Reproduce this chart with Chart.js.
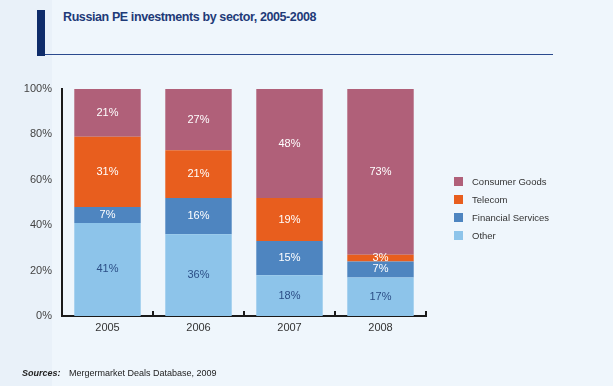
<!DOCTYPE html>
<html>
<head>
<meta charset="utf-8">
<script src="https://cdn.jsdelivr.net/npm/chart.js@4/dist/chart.umd.min.js"></script>
<style>
    html, body { margin: 0; padding: 0; }
    body {
        width: 613px; height: 386px; position: relative; overflow: hidden;
        background: #EFF6FC; font-family: "Liberation Sans", Arial, sans-serif;
    }
    #leftStrip { position: absolute; left: 0; top: 0; width: 52px; height: 386px; background: #E9F1F9; }
    #titleBar { position: absolute; left: 37px; top: 10px; width: 8px; height: 46px; background: #0E2C6A; }
    #titleRule { position: absolute; left: 45px; top: 54px; width: 508px; height: 1px; background: #2B4A8E; }
    #title {
        position: absolute; left: 63px; top: 10px; font-size: 12.5px; font-weight: bold;
        color: #1E3A78; letter-spacing: -0.4px; white-space: nowrap;
    }
    #chartBox { position: absolute; left: 0; top: 0; width: 613px; height: 386px; }
    #legend { position: absolute; left: 454px; top: 172px; }
    .legend-item { height: 18px; display: flex; align-items: center; font-size: 9.5px; color: #333; white-space: nowrap; }
    .legend-item span.box { width: 9px; height: 9px; margin-right: 9px; display: inline-block; }
    #sources { position: absolute; left: 22px; top: 368px; font-size: 9px; color: #222; white-space: nowrap; }
    #sources b { font-style: italic; display: inline-block; width: 47px; }
</style>
</head>
<body>
<div id="leftStrip"></div>
<div id="titleBar"></div>
<div id="titleRule"></div>
<div id="title">Russian PE investments by sector, 2005-2008</div>
<div id="chartBox"><canvas id="sectorChart" width="613" height="386"></canvas></div>
<div id="legend"></div>
<div id="sources"><b>Sources:</b>Mergermarket Deals Database, 2009</div>

<script>
// Chart data
const years = ['2005', '2006', '2007', '2008'];
const otherValues = [41, 36, 18, 17];
const financialValues = [7, 16, 15, 7];
const telecomValues = [31, 21, 19, 3];
const consumerValues = [21, 27, 48, 73];
const yTicks = [0, 20, 40, 60, 80, 100];

const seriesNames = ['Other', 'Financial Services', 'Telecom', 'Consumer Goods'];
const seriesColors = ['#8DC4EA', '#4E85C0', '#E85E1E', '#B06079'];
const labelColors = ['#2B4E86', '#FFFFFF', '#FFFFFF', '#FFFFFF'];

const datasets = [otherValues, financialValues, telecomValues, consumerValues].map((values, i) => ({
    label: seriesNames[i],
    data: values,
    backgroundColor: seriesColors[i],
    borderWidth: 0,
    categoryPercentage: 1,
    barPercentage: 0.73
}));

// Percent labels in the middle of every segment
const segmentLabels = {
    id: 'segmentLabels',
    afterDatasetsDraw(chart) {
        const ctx = chart.ctx;
        ctx.save();
        ctx.font = '11px "Liberation Sans", Arial, sans-serif';
        ctx.textAlign = 'center';
        ctx.textBaseline = 'middle';
        chart.data.datasets.forEach((ds, i) => {
            ctx.fillStyle = labelColors[i];
            chart.getDatasetMeta(i).data.forEach((bar, j) => {
                ctx.fillText(ds.data[j] + '%', bar.x, (bar.y + bar.base) / 2);
            });
        });
        ctx.restore();
    }
};

// Small upward tick marks between the categories on the x axis
const categoryTicks = {
    id: 'categoryTicks',
    afterDraw(chart) {
        const ctx = chart.ctx;
        const xScale = chart.scales.x;
        const bottom = chart.chartArea.bottom;
        const half = (xScale.getPixelForValue(1) - xScale.getPixelForValue(0)) / 2;
        ctx.save();
        ctx.strokeStyle = '#1A1A1A';
        ctx.lineWidth = 2;
        years.forEach((y, i) => {
            const x = Math.round(xScale.getPixelForValue(i) + half);
            ctx.beginPath();
            ctx.moveTo(x, bottom);
            ctx.lineTo(x, bottom - 5);
            ctx.stroke();
        });
        ctx.restore();
    }
};

new Chart(document.getElementById('sectorChart').getContext('2d'), {
    type: 'bar',
    data: { labels: years, datasets: datasets },
    options: {
        responsive: false,
        animation: false,
        layout: { padding: { left: 0, top: 89, right: 187, bottom: 48 } },
        plugins: { legend: { display: false }, tooltip: { enabled: false } },
        scales: {
            x: {
                stacked: true,
                grid: { display: false, drawTicks: false },
                border: { color: '#1A1A1A', width: 2 },
                ticks: { color: '#333', padding: 5, font: { size: 11, family: '"Liberation Sans", Arial' } },
                afterFit: scale => { scale.height = 22; }
            },
            y: {
                stacked: true,
                min: 0,
                max: 100,
                afterBuildTicks: scale => { scale.ticks = yTicks.map(v => ({ value: v })); },
                grid: { display: false, drawTicks: false },
                border: { color: '#1A1A1A', width: 2 },
                ticks: {
                    color: '#444', padding: 10,
                    font: { size: 11, family: '"Liberation Sans", Arial' },
                    callback: v => v + '%'
                },
                afterFit: scale => { scale.width = 62; }
            }
        }
    },
    plugins: [segmentLabels, categoryTicks]
});

// Legend, top entry first
const legendBox = document.getElementById('legend');
for (let i = seriesNames.length - 1; i >= 0; i--) {
    const item = document.createElement('div');
    item.className = 'legend-item';
    item.innerHTML = `<span class="box" style="background:${seriesColors[i]}"></span>${seriesNames[i]}`;
    legendBox.appendChild(item);
}
</script>
</body>
</html>
